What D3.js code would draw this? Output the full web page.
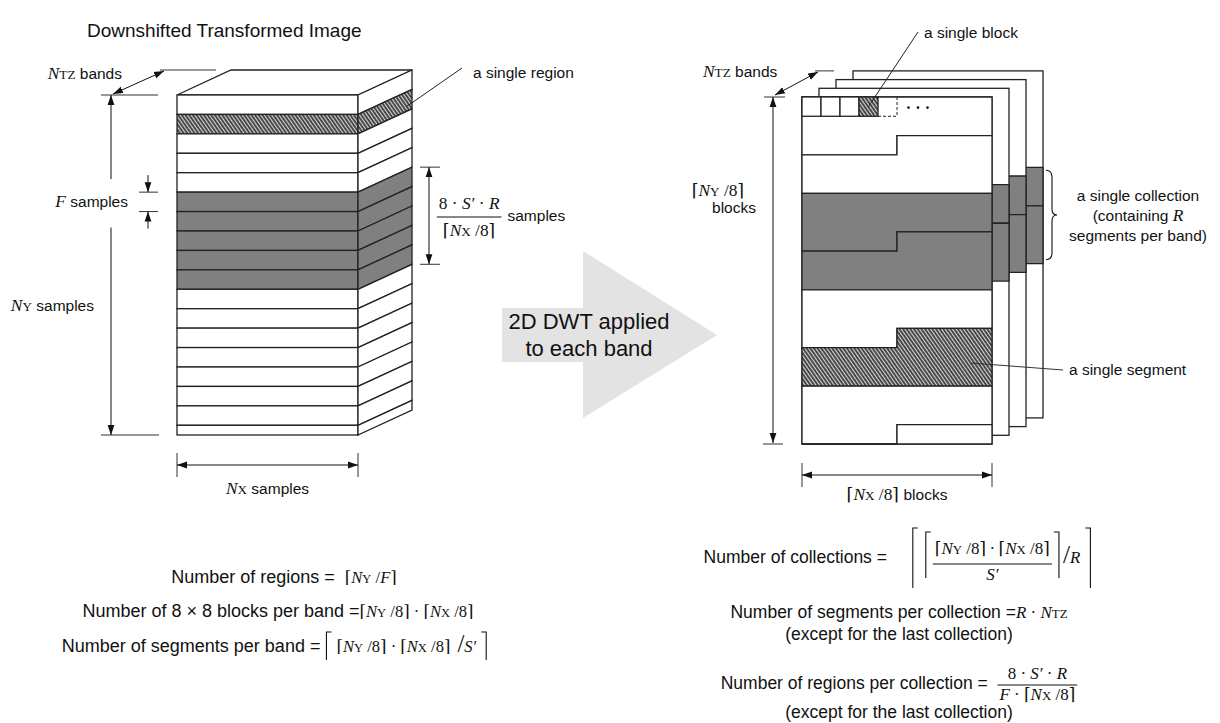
<!DOCTYPE html>
<html>
<head>
<meta charset="utf-8">
<style>
  body { margin: 0; background: #fff; }
  svg { display: block; }
  text { white-space: pre; }
</style>
</head>
<body>
<svg width="1220" height="723"></svg>
<script src="https://cdn.jsdelivr.net/npm/d3@7"></script>
<script>
// ---- diagram data ----
// left cube: one entry per region row (last row is half height)
const leftRowTypes = ['white','hatch','white','white','white',
                      'gray','gray','gray','gray','gray',
                      'white','white','white','white','white','white','white','white'];
const leftRowCount = 17.5;
// right: one band = 18 block rows x 10 blocks, segment boundaries in block rows
const rowsPerBand = 18;
const blocksPerRow = 10;
const segBounds = [0, 2.5, 5, 7.5, 10, 12.5, 15, 17.5, 18];
const segTypes  = ['white','white','gray','gray','white','hatch','white','white'];
const topBlocks = ['solid','solid','solid','hatch','dashed'];
const backPages = [3, 2, 1];   // bands drawn behind the front band

const SANS  = "'Liberation Sans', Arial, sans-serif";
const SERIF = "'Liberation Serif', 'Times New Roman', 'DejaVu Serif', serif";
const INK = '#111';
const fills = { white: '#fff', gray: '#808080', hatch: 'url(#hatch)' };
const TH = '\u2009';  // thin space

let svg = d3.select('svg');
let defs = svg.append('defs');

defs.append('marker')
  .attr('id', 'arr').attr('viewBox', '0 0 10 8')
  .attr('refX', 10).attr('refY', 4)
  .attr('markerWidth', 10).attr('markerHeight', 8)
  .attr('markerUnits', 'userSpaceOnUse')
  .attr('orient', 'auto-start-reverse')
  .append('path').attr('d', 'M0,0.6 L10,4 L0,7.4 Z').attr('fill', INK);

let pat = defs.append('pattern')
  .attr('id', 'hatch').attr('patternUnits', 'userSpaceOnUse')
  .attr('width', 3).attr('height', 3)
  .attr('patternTransform', 'rotate(-35)');
pat.append('rect').attr('width', 3).attr('height', 3).attr('fill', '#4a4a4a');
pat.append('line').attr('x1', 0.5).attr('y1', 0).attr('x2', 0.5).attr('y2', 3)
  .attr('stroke', '#d8d8d8').attr('stroke-width', 1);

// ---- helpers ----
function line(g, x1, y1, x2, y2, opts) {
  opts = opts || {};
  let l = g.append('line').attr('x1', x1).attr('y1', y1).attr('x2', x2).attr('y2', y2)
    .attr('stroke', opts.color || INK).attr('stroke-width', opts.w || 1);
  if (opts.start) l.attr('marker-start', 'url(#arr)');
  if (opts.end) l.attr('marker-end', 'url(#arr)');
  if (opts.dash) l.attr('stroke-dasharray', opts.dash);
  return l;
}

// text run: parts = [[string, style]], style s=sans i=serif italic r=serif b=small serif L=large serif
function run(g, x, y, parts, size, anchor, mf) {
  mf = mf || 1.12;
  let t = g.append('text').attr('x', x).attr('y', y)
    .attr('font-size', size).attr('font-family', SANS)
    .attr('text-anchor', anchor || 'start').attr('fill', INK);
  parts.forEach(function (p) {
    let ts = t.append('tspan').text(p[0]);
    if (p[1] === 'i') ts.attr('font-family', SERIF).attr('font-style', 'italic').attr('font-size', size * mf);
    if (p[1] === 'r') ts.attr('font-family', SERIF).attr('font-size', size * mf);
    if (p[1] === 'b') ts.attr('font-family', SERIF).attr('font-size', size * mf * 0.76);
    if (p[1] === 'L') ts.attr('font-family', SERIF).attr('font-size', size * mf * 1.5);
  });
  return t;
}

// lays items out left to right and centres the group on cx
function formula(g, cx, y, items, size, mf) {
  let grp = g.append('g');
  let x = 0;
  items.forEach(function (it) {
    if (it.run) {
      let t = run(grp, x, y, it.run, size, 'start', mf);
      x += t.node().getComputedTextLength();
    } else if (it.gap) {
      x += it.gap;
    } else if (it.frac) {
      let n = run(grp, 0, y + it.nd, it.frac[0], size, 'middle', mf);
      let d = run(grp, 0, y + it.dd, it.frac[1], size, 'middle', mf);
      let w = Math.max(n.node().getComputedTextLength(), d.node().getComputedTextLength()) + 4;
      n.attr('x', x + w / 2);
      d.attr('x', x + w / 2);
      line(grp, x, y + it.bd, x + w, y + it.bd);
      x += w;
    } else if (it.br) {
      let d = it.br === 'L'
        ? `M${x + 6},${y + it.top} H${x + 1} V${y + it.bot}`
        : `M${x},${y + it.top} H${x + 5} V${y + it.bot}`;
      grp.append('path').attr('d', d).attr('fill', 'none').attr('stroke', INK).attr('stroke-width', 1.1);
      x += 7;
    }
  });
  grp.attr('transform', `translate(${cx - x / 2},0)`);
  return grp;
}

const NY  = [['N', 'i'], ['Y', 'b']];
const NX  = [['N', 'i'], ['X', 'b']];
const NTZ = [['N', 'i'], ['TZ', 'b']];
const ceilNY8 = [['⌈', 'r']].concat(NY, [[' /8', 'r'], ['⌉', 'r']]);
const ceilNX8 = [['⌈', 'r']].concat(NX, [[' /8', 'r'], ['⌉', 'r']]);
const LAB = 15.5;

// ---- title ----
svg.append('text').text('Downshifted Transformed Image')
  .attr('x', 87).attr('y', 37)
  .attr('font-family', SANS).attr('font-size', 19).attr('fill', INK);

// ---- left cube ----
let xL = d3.scaleLinear().domain([0, 1]).range([177, 358]);
let yL = d3.scaleLinear().domain([0, leftRowCount]).range([95, 435]);
const dxL = 54, dyL = -25;
let gL = svg.append('g').attr('stroke', '#222').attr('stroke-width', 1.3);

gL.append('path')
  .attr('d', `M${xL(0)},${yL(0)} L${xL(0) + dxL},${yL(0) + dyL} L${xL(1) + dxL},${yL(0) + dyL} L${xL(1)},${yL(0)} Z`)
  .attr('fill', '#fff');

leftRowTypes.forEach(function (t, i) {
  let a = yL(i), b = yL(Math.min(i + 1, leftRowCount));
  gL.append('rect').attr('x', xL(0)).attr('y', a)
    .attr('width', xL(1) - xL(0)).attr('height', b - a)
    .attr('fill', fills[t]);
  gL.append('path')
    .attr('d', `M${xL(1)},${a} L${xL(1) + dxL},${a + dyL} L${xL(1) + dxL},${b + dyL} L${xL(1)},${b} Z`)
    .attr('fill', fills[t]);
});

let gA = svg.append('g');
// N_TZ bands (left)
line(gA, xL(0) - 76, yL(0), xL(0) - 19, yL(0), { color: '#333' });
line(gA, xL(0) - 17, yL(0) + dyL, xL(0) + 39, yL(0) + dyL, { color: '#333' });
line(gA, xL(0) - 64, yL(0) - 1, xL(0) - 13, yL(0) + dyL + 1, { start: true, end: true });
run(gA, 122, 79, NTZ.concat([[' bands', 's']]), LAB, 'end');

// N_Y samples (left vertical)
const vx = 111;
line(gA, vx, yL(0), vx, yL(5) - 13, { start: true });
line(gA, vx, yL(6) + 16, vx, yL(leftRowCount), { end: true });
line(gA, 101, yL(leftRowCount), 159, yL(leftRowCount), { color: '#333' });
run(gA, 94, 311, NY.concat([[' samples', 's']]), LAB, 'end');

// F samples
line(gA, 139, yL(5), 158, yL(5), { color: '#333' });
line(gA, 139, yL(6), 158, yL(6), { color: '#333' });
line(gA, 148, yL(5) - 17, 148, yL(5), { end: true });
line(gA, 148, yL(6) + 17, 148, yL(6), { end: true });
run(gA, 128, 207, [['F', 'i'], [' samples', 's']], LAB, 'end');

// 8·S'·R / ceil(NX/8) samples
const rx = 429;
line(gA, 420, yL(5) + dyL, 440, yL(5) + dyL, { color: '#333' });
line(gA, 420, yL(10) + dyL, 440, yL(10) + dyL, { color: '#333' });
line(gA, rx, yL(5) + dyL, rx, yL(10) + dyL, { start: true, end: true });
formula(gA, 501, 221, [
  { frac: [[['8 · ', 'r'], ['S′', 'i'], [' · ', 'r'], ['R', 'i']], ceilNX8], nd: -12, dd: 15, bd: -4 },
  { gap: 6 },
  { run: [['samples', 's']] }
], LAB);

// a single region
line(gA, 462, 68, xL(1) + dxL * 0.9, yL(1.75) + dyL * 0.9, { color: '#222' });
run(gA, 473, 78, [['a single region', 's']], LAB);

// N_X samples
line(gA, xL(0), 453, xL(0), 477, { color: '#333' });
line(gA, xL(1), 453, xL(1), 477, { color: '#333' });
line(gA, xL(0), 465, xL(1), 465, { start: true, end: true });
run(gA, (xL(0) + xL(1)) / 2, 494, NX.concat([[' samples', 's']]), LAB, 'middle');

// ---- big arrow ----
let gArrow = svg.append('g');
gArrow.append('path')
  .attr('d', 'M502,308 L583,308 L583,251 L717,335 L583,418 L583,362 L502,362 Z')
  .attr('fill', '#e3e3e3');
run(gArrow, 589, 329, [['2D DWT applied', 's']], 22, 'middle');
run(gArrow, 589, 356, [['to each band', 's']], 22, 'middle');

// ---- right: transformed bands ----
let xR = d3.scaleLinear().domain([0, blocksPerRow]).range([802, 992]);
let yR = d3.scaleLinear().domain([0, rowsPerBand]).range([97, 444]);
const pdx = 17, pdy = -8.7;

function segPath(p0, p1) {
  let tL = Math.ceil(p0), tR = Math.floor(p0), c0 = (p0 - Math.floor(p0)) * blocksPerRow;
  let bL = Math.ceil(p1), bR = Math.floor(p1), c1 = (p1 - Math.floor(p1)) * blocksPerRow;
  let pts = [[0, tL], [c0, tL], [c0, tR], [blocksPerRow, tR],
             [blocksPerRow, bR], [c1, bR], [c1, bL], [0, bL]];
  return 'M' + pts.map(p => `${xR(p[0])},${yR(p[1])}`).join(' L') + ' Z';
}

let gR = svg.append('g').attr('stroke', '#222').attr('stroke-width', 1.3);

backPages.forEach(function (k) {
  let pg = gR.append('g').attr('transform', `translate(${pdx * k},${pdy * k})`);
  pg.append('rect').attr('x', xR(0)).attr('y', yR(0))
    .attr('width', xR(blocksPerRow) - xR(0)).attr('height', yR(rowsPerBand) - yR(0))
    .attr('fill', '#fff');
  segTypes.forEach(function (t, i) {
    if (t !== 'gray') return;
    pg.append('path').attr('d', segPath(segBounds[i], segBounds[i + 1])).attr('fill', fills.gray);
  });
});

let front = gR.append('g');
front.append('rect').attr('x', xR(0)).attr('y', yR(0))
  .attr('width', xR(blocksPerRow) - xR(0)).attr('height', yR(rowsPerBand) - yR(0))
  .attr('fill', '#fff');
segTypes.forEach(function (t, i) {
  front.append('path').attr('d', segPath(segBounds[i], segBounds[i + 1])).attr('fill', fills[t]);
});
topBlocks.forEach(function (t, i) {
  if (t === 'dashed') {
    line(front, xR(i), yR(1), xR(i + 1), yR(1), { color: '#222', dash: '3,2' });
    line(front, xR(i + 1), yR(0), xR(i + 1), yR(1), { color: '#222', dash: '3,2' });
  } else {
    front.append('rect').attr('x', xR(i)).attr('y', yR(0))
      .attr('width', xR(i + 1) - xR(i)).attr('height', yR(1) - yR(0))
      .attr('fill', t === 'hatch' ? fills.hatch : '#fff');
  }
});
[5.5, 6, 6.5].forEach(function (c) {
  svg.append('circle').attr('cx', xR(c) + 2).attr('cy', yR(0.55)).attr('r', 1.3).attr('fill', INK);
});

let gB = svg.append('g');
// a single block
line(gB, 918, 32, xR(3.5), yR(0.5), { color: '#222' });
run(gB, 924, 38, [['a single block', 's']], LAB);

// N_TZ bands (right)
line(gB, 764, yR(0), 785, yR(0), { color: '#333' });
line(gB, 815, yR(0) + pdy * 3, 834, yR(0) + pdy * 3, { color: '#333' });
line(gB, 775, yR(0) - 2, 818, yR(0) + pdy * 3 + 1, { start: true, end: true });
run(gB, 703, 77, NTZ.concat([[' bands', 's']]), LAB);

// ceil(NY/8) blocks
line(gB, 773, yR(0), 773, yR(rowsPerBand) - 1, { start: true, end: true });
line(gB, 763, yR(rowsPerBand), 783, yR(rowsPerBand), { color: '#333' });
run(gB, 718, 196, ceilNY8, LAB, 'middle');
run(gB, 734, 213, [['blocks', 's']], LAB, 'middle');

// ceil(NX/8) blocks
line(gB, xR(0), 463, xR(0), 487, { color: '#333' });
line(gB, xR(blocksPerRow), 463, xR(blocksPerRow), 487, { color: '#333' });
line(gB, xR(0), 475, xR(blocksPerRow), 475, { start: true, end: true });
run(gB, (xR(0) + xR(blocksPerRow)) / 2, 500, ceilNX8.concat([[' blocks', 's']]), LAB, 'middle');

// brace and collection label
let by0 = yR(5) + pdy * 3 + 3, by1 = yR(10) + pdy * 3 - 4, bm = (by0 + by1) / 2;
gB.append('path')
  .attr('d', `M1046,${by0} Q1052,${by0} 1052,${by0 + 7} L1052,${bm - 6} Q1052,${bm} 1057,${bm}
              Q1052,${bm} 1052,${bm + 6} L1052,${by1 - 7} Q1052,${by1} 1046,${by1}`)
  .attr('fill', 'none').attr('stroke', INK).attr('stroke-width', 1.1);
run(gB, 1138, 201, [['a single collection', 's']], LAB, 'middle');
run(gB, 1138, 221, [['(containing ', 's'], ['R', 'i']], LAB, 'middle');
run(gB, 1138, 241, [['segments per band)', 's']], LAB, 'middle');

// a single segment
line(gB, xR(8.9), yR(13.8), 1063, 370, { color: '#333' });
run(gB, 1069, 375, [['a single segment', 's']], LAB);

// ---- formulas ----
let gF = svg.append('g');
const FL = 18, ML = 0.92;   // left formulas: sans size, math factor
formula(gF, 284, 583, [{ run: [['Number of regions =  ', 's'], ['⌈', 'r']].concat(NY, [[' /', 'r'], ['F', 'i'], ['⌉', 'r']]) }], FL, ML);
formula(gF, 278, 617, [{ run: [['Number of 8 × 8 blocks per band =', 's']].concat(ceilNY8, [[' · ', 'r']], ceilNX8) }], FL, ML);
formula(gF, 275, 652, [
  { run: [['Number of segments per band = ', 's']] },
  { br: 'L', top: -20, bot: 8 }, { gap: 4 },
  { run: ceilNY8.concat([[' · ', 'r']], ceilNX8) },
  { gap: 7 },
  { run: [['/', 'L'], ['S′', 'i']] },
  { gap: 5 },
  { br: 'R', top: -20, bot: 8 }
], FL, ML);

const FR = 17.5, MR = 0.97;  // right formulas
formula(gF, 898, 563, [
  { run: [['Number of collections = ', 's']] },
  { gap: 20 },
  { br: 'L', top: -35, bot: 25 }, { gap: 6 },
  { br: 'L', top: -31, bot: 15 }, { gap: 1 },
  { frac: [ceilNY8.concat([[TH + '·' + TH, 'r']], ceilNX8), [['S′', 'i']]], nd: -9, dd: 17, bd: 1 },
  { gap: 2 },
  { br: 'R', top: -31, bot: 15 }, { gap: 2 },
  { run: [['/', 'L'], ['R', 'i']] },
  { gap: 5 },
  { br: 'R', top: -35, bot: 25 }
], FR, MR);

formula(gF, 899, 618, [{ run: [['Number of segments per collection =', 's'], ['R', 'i'], [' · ', 'r']].concat(NTZ) }], FR, MR);
run(gF, 899, 640, [['(except for the last collection)', 's']], FR, 'middle', MR);

formula(gF, 899, 689, [
  { run: [['Number of regions per collection =  ', 's']] },
  { frac: [[['8 · ', 'r'], ['S′', 'i'], [' · ', 'r'], ['R', 'i']], [['F', 'i'], [' · ', 'r']].concat(ceilNX8)], nd: -10, dd: 11, bd: -4 }
], FR, MR);
run(gF, 899, 718, [['(except for the last collection)', 's']], FR, 'middle', MR);
</script>
</body>
</html>
